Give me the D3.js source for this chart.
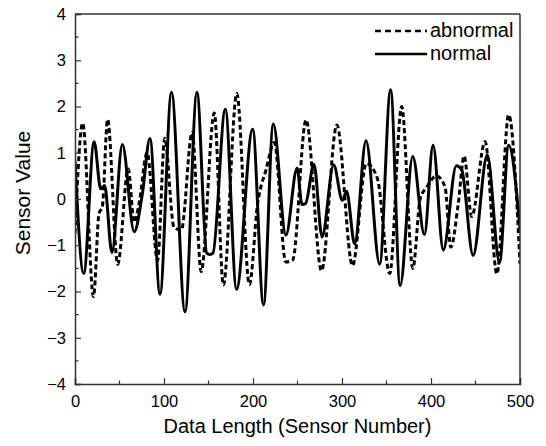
<!DOCTYPE html>
<meta charset="utf-8">
<script src="https://d3js.org/d3.v7.min.js"></script>
<style>
  body { margin: 0; background: #fff; }
  text { font-family: "Liberation Sans", Arial, sans-serif; fill: #000; }
</style>
<div id="chart"></div>
<script>
// series (sensor index, value)
const normalX = [0, 9.8, 21.5, 28.9, 33.3, 41.5, 53.2, 66.5, 75.6, 84.2, 95.5, 108.4, 123.6, 137, 148, 151.5, 155, 168.9, 181.5, 199.6, 211.8, 222.8, 237, 249.6, 255, 259, 268.5, 277.6, 290.6, 300.4, 305.2, 314.2, 327, 342.3, 354.6, 365.3, 379.5, 392.6, 402.3, 413.8, 428.5, 434.5, 447.3, 463.2, 477, 487.3, 500];
const normalY = [0.82, -1.61, 1.24, 0.22, 0.29, -1.16, 1.18, -0.71, 0.1, 1.31, -2.06, 2.31, -2.44, 2.31, -1.17, -1.2, -1.17, 1.94, -1.95, 1.51, -2.29, 1.62, -0.78, 0.67, -0.12, -0.1, 0.75, -0.82, 0.74, -0.03, 0.17, -0.97, 1.26, -1.41, 2.36, -1.87, 0.92, -0.77, 1.16, -1.1, 0.72, 0.63, -1.22, 0.95, -1.37, 1.16, -0.65];

const abnormalX = [0, 8.6, 20.8, 27, 30.7, 36.6, 48, 59.8, 66.5, 72, 81, 92.8, 100.8, 111.2, 119.5, 131.6, 141.8, 156.5, 166.7, 181.8, 196, 205, 214.6, 224, 236.8, 244.6, 259.6, 277, 294.2, 311.8, 327.3, 339.7, 353.6, 367, 379.6, 388, 395, 406, 415.7, 422.3, 430.7, 437.2, 445.7, 460.8, 474, 487.3, 500];
const abnormalY = [-0.74, 1.64, -2.11, -0.31, -0.17, 1.72, -1.41, 0.65, -0.5, -0.1, 1.0, -1.33, 1.31, -0.61, -0.67, 1.44, -1.57, 1.86, -1.86, 2.28, -1.85, -0.13, 0.63, 1.22, -1.36, -1.32, 1.71, -1.55, 1.6, -1.44, 0.77, 0.45, -1.61, 2.0, -1.5, 0.02, 0.25, 0.5, 0.27, -1.04, -0.09, 0.93, -0.38, 1.24, -1.62, 1.82, -1.4];

const xTicks = [0, 100, 200, 300, 400, 500];
const yTicks = [-4, -3, -2, -1, 0, 1, 2, 3, 4];
const legendLabels = ["abnormal", "normal"];

const W = 546, H = 446;
const margin = {top: 14, right: 26, bottom: 62, left: 75};
const width = W - margin.left - margin.right,
      height = H - margin.top - margin.bottom;

const svg = d3.select("#chart").append("svg")
    .attr("width", W)
    .attr("height", H);

const g = svg.append("g")
    .attr("transform", `translate(${margin.left},${margin.top})`);

const x = d3.scaleLinear().domain([0, 500]).range([0, width]);
const y = d3.scaleLinear().domain([-4, 4]).range([height, 0]);

g.append("defs").append("clipPath").attr("id", "clip")
  .append("rect").attr("width", width).attr("height", height);

// lines
const line = d3.line()
    .x(d => x(d[0]))
    .y(d => y(d[1]))
    .curve(d3.curveMonotoneX);

const abnormal = abnormalX.map((v, i) => [v, abnormalY[i]]);
const normal = normalX.map((v, i) => [v, normalY[i]]);

const plot = g.append("g").attr("clip-path", "url(#clip)");

plot.append("path")
    .datum(abnormal)
    .attr("d", line)
    .attr("fill", "none")
    .attr("stroke", "#000")
    .attr("stroke-width", 3)
    .attr("stroke-dasharray", "5,3");

plot.append("path")
    .datum(normal)
    .attr("d", line)
    .attr("fill", "none")
    .attr("stroke", "#000")
    .attr("stroke-width", 3);

// axes (ticks pointing inward)
const axisColor = "#333";

const xAxis = g.append("g")
    .attr("transform", `translate(0,${height})`)
    .call(d3.axisBottom(x).tickValues(xTicks).tickSize(-6).tickPadding(11).tickFormat(d3.format("d")));
xAxis.selectAll("text").style("font-size", "16.5px");

// minor x ticks
g.append("g")
    .selectAll("line")
    .data([50, 150, 250, 350, 450])
    .join("line")
      .attr("x1", d => x(d)).attr("x2", d => x(d))
      .attr("y1", height).attr("y2", height - 3.5)
      .attr("stroke", axisColor).attr("stroke-width", 1.2);

const yAxis = g.append("g")
    .call(d3.axisLeft(y).tickValues(yTicks).tickSize(-6).tickPadding(9).tickFormat(d3.format("d")));
yAxis.selectAll("text").style("font-size", "16.5px");

g.append("g")
    .selectAll("line")
    .data([-3.5, -2.5, -1.5, -0.5, 0.5, 1.5, 2.5, 3.5])
    .join("line")
      .attr("y1", d => y(d)).attr("y2", d => y(d))
      .attr("x1", 0).attr("x2", 3.5)
      .attr("stroke", axisColor).attr("stroke-width", 1.2);

[xAxis, yAxis].forEach(a => {
  a.select(".domain").attr("stroke", axisColor).attr("stroke-width", 1.5);
  a.selectAll(".tick line").attr("stroke", axisColor).attr("stroke-width", 1.2);
});

// top and right frame
g.append("line").attr("x1", 0).attr("x2", width).attr("y1", 0).attr("y2", 0)
    .attr("stroke", axisColor).attr("stroke-width", 1.5);
g.append("line").attr("x1", width).attr("x2", width).attr("y1", 0).attr("y2", height)
    .attr("stroke", axisColor).attr("stroke-width", 1.5);

// axis titles
svg.append("text")
    .attr("x", margin.left + width / 2)
    .attr("y", 433)
    .attr("text-anchor", "middle")
    .style("font-size", "20px")
    .text("Data Length (Sensor Number)");

svg.append("text")
    .attr("transform", `translate(30,${margin.top + height / 2 - 6}) rotate(-90)`)
    .attr("text-anchor", "middle")
    .style("font-size", "21px")
    .text("Sensor Value");

// legend
const legend = svg.append("g");
legendLabels.forEach((name, i) => {
  const ly = 31 + i * 23;
  legend.append("line")
      .attr("x1", 375).attr("x2", 427)
      .attr("y1", ly).attr("y2", ly)
      .attr("stroke", "#000")
      .attr("stroke-width", 2.4)
      .attr("stroke-dasharray", i === 0 ? "6,4" : null);
  legend.append("text")
      .attr("x", 430)
      .attr("y", ly + 6)
      .style("font-size", "20px")
      .text(name);
});
</script>
